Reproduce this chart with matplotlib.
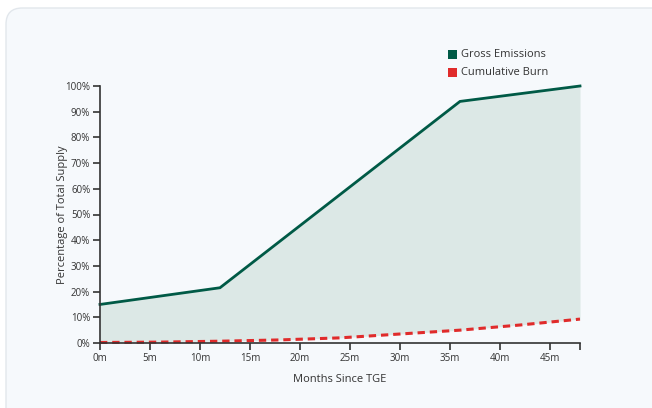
import numpy as np
import matplotlib.pyplot as plt
from matplotlib.patches import FancyBboxPatch, Rectangle

plt.rcParams['font.family'] = ['Open Sans', 'DejaVu Sans']

# data
months = [0, 12, 36, 48]
gross = [15.0, 21.5, 94.0, 100.0]
burn_months = [0, 6, 12, 18, 24, 30, 36, 42, 48]
burn = [0.2, 0.35, 0.7, 1.2, 2.0, 3.5, 5.0, 7.0, 9.3]
xticks = [0, 5, 10, 15, 20, 25, 30, 35, 40, 45]
yticks = list(range(0, 101, 10))

green = '#005a46'
red = '#e02b2b'

fig = plt.figure(figsize=(6.52, 4.08), dpi=100)
fig.patch.set_facecolor('white')
card = FancyBboxPatch((6 / 652, -0.1), 1.1, 1.1 - 8 / 408,
                      boxstyle='round,pad=0,rounding_size=0.025',
                      mutation_aspect=652 / 408,
                      transform=fig.transFigure, facecolor='#f6f9fc',
                      edgecolor='#e2e7ec', linewidth=1, zorder=-5)
fig.patches.append(card)

ax = fig.add_axes([100 / 652, 65 / 408, 480 / 652, 257 / 408])
ax.set_facecolor('none')

gx = np.array(burn_months)
gy = np.interp(gx, months, gross)
ax.fill_between(gx, burn, gy, color='#dce8e6', lw=0)
ax.plot(months, gross, color=green, lw=2, solid_joinstyle='miter', clip_on=False)
ax.plot(burn_months, burn, color=red, lw=2.2, dashes=(2.4, 1.6), clip_on=False)

ax.set_xlim(0, 48)
ax.set_ylim(0, 100)
ax.set_xticks(xticks + [48])
ax.set_xticklabels([f'{v}m' for v in xticks] + [''])
ax.set_yticks(yticks)
ax.set_yticklabels([f'{v}%' for v in yticks])
for s in ['top', 'right']:
    ax.spines[s].set_visible(False)
for s in ['left', 'bottom']:
    ax.spines[s].set_color('#333333')
    ax.spines[s].set_linewidth(1.2)
ax.tick_params(length=5, width=1.2, color='#333333', labelsize=7, labelcolor='#333333', pad=2)

ax.set_xlabel('Months Since TGE', fontsize=8, color='#333333')
ax.set_ylabel('Percentage of Total Supply', fontsize=8, color='#333333')
ax.xaxis.set_label_coords(0.5, (343 - 379) / 257)
ax.xaxis.label.set_va('center')
ax.yaxis.set_label_coords((62 - 100) / 480, 0.5)
ax.yaxis.label.set_va('center')

# legend
for i, (lab, col) in enumerate([('Gross Emissions', green), ('Cumulative Burn', red)]):
    yy = 1 - (50 + 18 * i) / 408
    fig.patches.append(Rectangle((448 / 652, yy - 9 / 408), 9 / 652, 9 / 408,
                                 transform=fig.transFigure, facecolor=col, edgecolor='none'))
    fig.text(461 / 652, yy - 4.5 / 408, lab, fontsize=8, color='#333333', va='center', ha='left')

fig.savefig('out.png', dpi=100)
